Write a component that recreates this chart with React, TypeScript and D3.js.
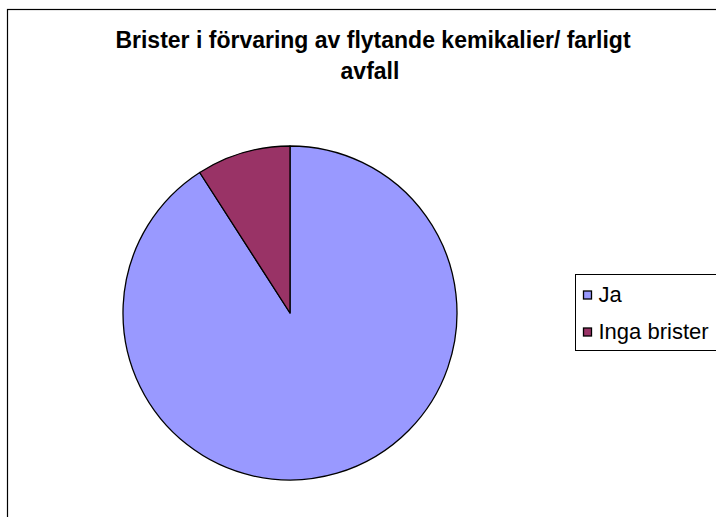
import * as d3 from "d3";
import { useEffect, useRef } from "react";

const categories = ["Ja", "Inga brister"];
const values = [10, 1];
const colors = ["#9999FF", "#993366"];
const titleLines = ["Brister i förvaring av flytande kemikalier/ farligt", "avfall"];

export default function App() {
  const ref = useRef<SVGSVGElement | null>(null);

  useEffect(() => {
    if (!ref.current) return;
    const width = 716;
    const height = 517;
    const svg = d3.select(ref.current);
    svg.selectAll("*").remove();

    svg.append("rect").attr("width", width).attr("height", height).attr("fill", "#fff");

    // chart area frame (runs off the right and bottom edges)
    svg
      .append("rect")
      .attr("x", 7.5)
      .attr("y", 9.5)
      .attr("width", 740)
      .attr("height", 540)
      .attr("fill", "#fff")
      .attr("stroke", "#000")
      .attr("stroke-width", 1.2);

    const font = "'Liberation Sans', Arial, sans-serif";

    svg
      .append("g")
      .selectAll("text")
      .data(titleLines)
      .join("text")
      .attr("x", (_, i) => (i === 0 ? 373 : 370))
      .attr("y", (_, i) => 48 + i * 31)
      .attr("text-anchor", "middle")
      .style("font-family", font)
      .style("font-size", "23px")
      .style("font-weight", "bold")
      .attr("fill", "#000")
      .text((d) => d);

    const cx = 290;
    const cy = 313;
    const r = 167;

    const pie = d3
      .pie<number>()
      .sort(null)
      .value((d) => d);
    const arc = d3.arc<d3.PieArcDatum<number>>().innerRadius(0).outerRadius(r);

    const g = svg.append("g").attr("transform", `translate(${cx},${cy})`);
    g.selectAll("path")
      .data(pie(values))
      .join("path")
      .attr("d", arc)
      .attr("fill", (_, i) => colors[i])
      .attr("stroke", "#000")
      .attr("stroke-width", 1.3)
      .attr("stroke-linejoin", "round");

    // legend
    const lx = 575.5;
    const ly = 274.5;
    svg
      .append("rect")
      .attr("x", lx)
      .attr("y", ly)
      .attr("width", 160)
      .attr("height", 76)
      .attr("fill", "#fff")
      .attr("stroke", "#000")
      .attr("stroke-width", 1);

    const item = svg
      .append("g")
      .selectAll("g")
      .data(categories)
      .join("g")
      .attr("transform", (_, i) => `translate(${lx + 8},${ly + 16.5 + i * 37})`);

    item
      .append("rect")
      .attr("x", 0)
      .attr("y", 0)
      .attr("width", 8)
      .attr("height", 8)
      .attr("fill", (_, i) => colors[i])
      .attr("stroke", "#000")
      .attr("stroke-width", 1.3);

    item
      .append("text")
      .attr("x", 15)
      .attr("y", 11)
      .style("font-family", font)
      .style("font-size", "22px")
      .attr("fill", "#000")
      .text((d) => d);
  }, []);

  return (
    <svg
      ref={ref}
      width={716}
      height={517}
      style={{ position: "absolute", left: 0, top: 0, display: "block" }}
      role="img"
      aria-label="Brister i förvaring av flytande kemikalier/ farligt avfall"
    />
  );
}
